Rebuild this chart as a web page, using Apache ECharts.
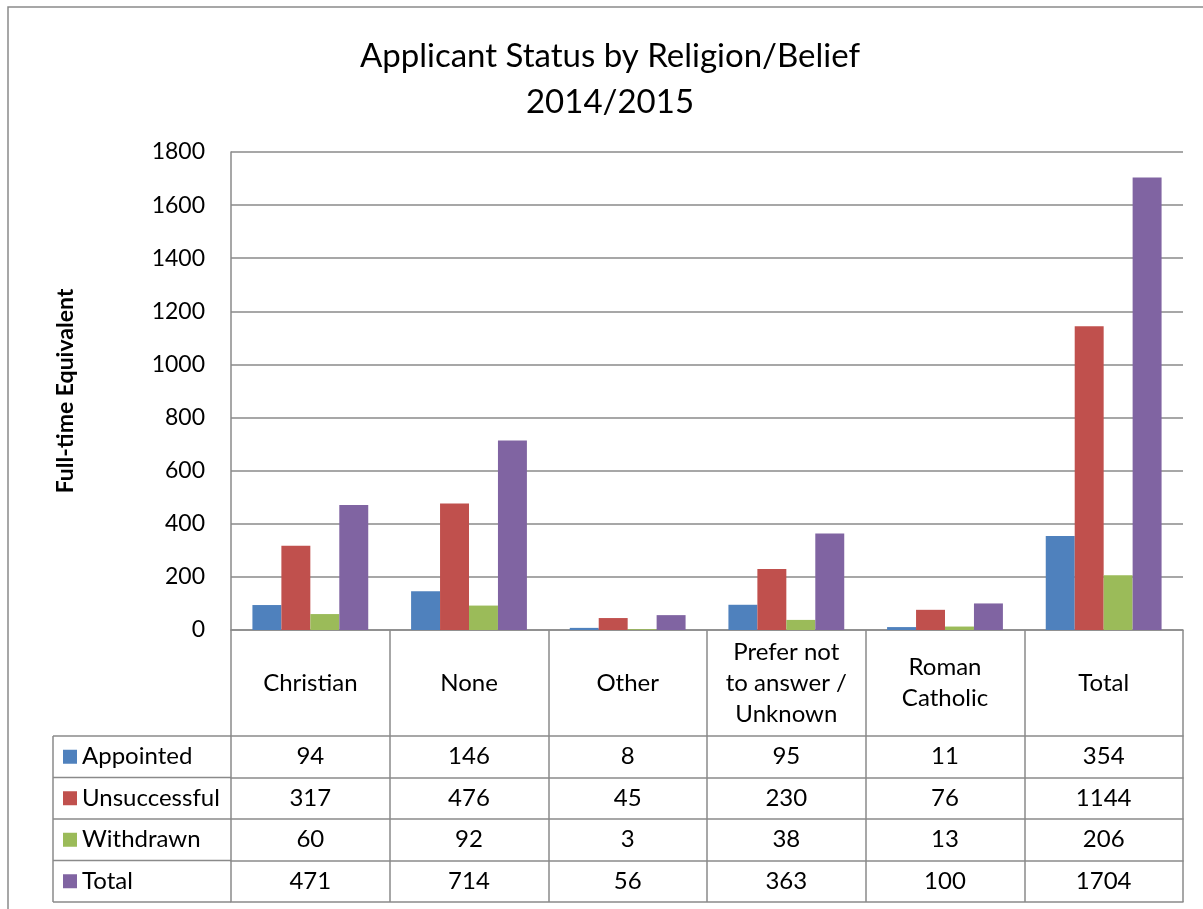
<!DOCTYPE html>
<html><head><meta charset="utf-8">
<script src="https://cdn.jsdelivr.net/npm/echarts@6/dist/echarts.min.js"></script>
<style>html,body{margin:0;padding:0;background:#fff}#c{width:1203px;height:909px}</style>
</head><body><div id="c"></div>
<script>
const categories = ['Christian','None','Other','Prefer not\nto answer /\nUnknown','Roman\nCatholic','Total'];
const seriesNames = ['Appointed','Unsuccessful','Withdrawn','Total'];
const appointed = [94,146,8,95,11,354];
const unsuccessful = [317,476,45,230,76,1144];
const withdrawn = [60,92,3,38,13,206];
const total = [471,714,56,363,100,1704];
const yTicks = {min:0, max:1800, interval:200};
const colors = ['#4F81BD','#C0504D','#9BBB59','#8064A2'];

const values = [appointed, unsuccessful, withdrawn, total];
const FONT = 'Lato';
const LINE = '#8a8a8a';
const G = {left:231, top:152, width:952, height:478};
const gridBottom = G.top + G.height;
const headerH = 106, rowH = 41.5;
const tableLeft = 53;

const xAxes = [{
  type:'category', data:categories, gridIndex:0, position:'bottom',
  axisLine:{show:true, lineStyle:{color:LINE, width:1.5}},
  axisTick:{show:true, length:headerH + rowH*4, interval:0, lineStyle:{color:LINE, width:1.5}},
  axisLabel:{interval:0, margin:headerH/2, verticalAlign:'middle', color:'#000', fontFamily:FONT, fontSize:24, lineHeight:31, align:'center'}
}];
for (let i=0;i<=4;i++){
  xAxes.push({
    type:'category', data:categories, gridIndex:0, position:'bottom', offset: headerH + rowH*i,
    axisLine:{show:true, lineStyle:{color:LINE, width:1.5}},
    axisTick:{show:false},
    axisLabel:{show: i<4, interval:0, margin:rowH/2, verticalAlign:'middle', color:'#000', fontFamily:FONT, fontSize:24,
      formatter:(v, idx)=> i<4 ? String(values[i][idx]) : ''}
  });
}

const graphics = [
  {type:'rect', shape:{x:8, y:7, width:1300, height:1000}, style:{fill:null, stroke:'#8a8a8a', lineWidth:1.5}, silent:true},
  {type:'line', shape:{x1:tableLeft, y1:gridBottom+headerH, x2:tableLeft, y2:gridBottom+headerH+rowH*4}, style:{stroke:LINE, lineWidth:1.5}}
];
for (let i=0;i<=4;i++){
  const y = gridBottom + headerH + rowH*i;
  graphics.push({type:'line', shape:{x1:tableLeft, y1:y, x2:G.left, y2:y}, style:{stroke:LINE, lineWidth:1.5}});
}

const legendFont = 24;
const chart = echarts.init(document.getElementById('c'));
chart.setOption({
  animation:false,
  color:colors,
  title:{text:'Applicant Status by Religion/Belief\n2014/2015', left:605, top:28, textAlign:'center',
    textStyle:{fontFamily:FONT, fontSize:33, fontWeight:'normal', color:'#000', lineHeight:46}},
  grid:G,
  legend:{orient:'vertical', left:63, padding:0, top:gridBottom+headerH+rowH/2-legendFont/2, itemWidth:14, itemHeight:14, itemGap:rowH-legendFont,
    icon:'rect', data:seriesNames, textStyle:{fontFamily:FONT, fontSize:legendFont, lineHeight:legendFont, color:'#000'}, selectedMode:false},
  xAxis:xAxes,
  yAxis:{type:'value', min:yTicks.min, max:yTicks.max, interval:yTicks.interval,
    name:'Full-time Equivalent', nameLocation:'middle', nameGap:154, nameRotate:90,
    nameTextStyle:{fontFamily:FONT, fontSize:23, fontWeight:'bold', color:'#000'},
    axisLine:{show:true, lineStyle:{color:LINE, width:1.5}}, axisTick:{show:false},
    axisLabel:{color:'#000', fontFamily:FONT, fontSize:23, margin:26, formatter:(v)=>String(v)},
    splitLine:{lineStyle:{color:LINE, width:1.5}}},
  series: seriesNames.map((n,i)=>({name:n, type:'bar', xAxisIndex:0, data:values[i], barGap:'0%', barCategoryGap:'27%'})),
  graphic:graphics
});
</script></body></html>
